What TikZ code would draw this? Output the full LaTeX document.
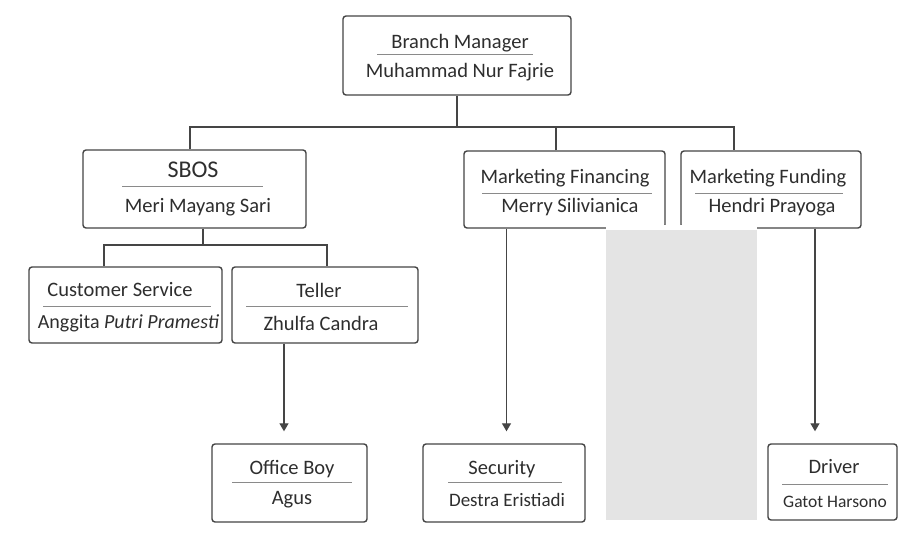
\documentclass[tikz,border=0pt]{standalone}
\usepackage{fontspec}
\setmainfont{Carlito}
\usetikzlibrary{arrows.meta}
\definecolor{linec}{HTML}{454545}
\definecolor{txtc}{HTML}{2E2E2E}
\definecolor{sepc}{HTML}{8A8A8A}
\definecolor{occl}{HTML}{E4E4E4}
\tikzset{
  box/.style={draw=linec, line width=1.4pt, rounded corners=3pt, fill=white, inner sep=0pt},
  txt/.style={text=txtc, inner sep=0pt, font=\fontsize{20.5}{24}\selectfont},
  smalltxt/.style={text=txtc, inner sep=0pt, font=\fontsize{17.5}{21}\selectfont},
  bigtxt/.style={text=txtc, inner sep=0pt, font=\fontsize{24}{28}\selectfont},
  sepline/.style={draw=sepc, line width=0.9pt},
  conn/.style={draw=linec, line width=1.3pt},
  arr/.style={draw=linec, line width=1.3pt, -{Triangle[width=9pt,length=8pt]}, shorten >=12pt}
}
\begin{document}
\begin{tikzpicture}[x=1pt,y=-1pt]
\fill[white] (0,0) rectangle (908,535);
\useasboundingbox (0,0) rectangle (908,535);

% boxes
\node[box, minimum width=228, minimum height=79] (bm) at (457,55.5) {};
\node[box, minimum width=223, minimum height=78] (sbos) at (194.5,189) {};
\node[box, minimum width=201, minimum height=77] (mf) at (564.5,189.5) {};
\node[box, minimum width=180, minimum height=77] (mfu) at (771,189.5) {};
\node[box, minimum width=193, minimum height=76] (cs) at (125.5,305) {};
\node[box, minimum width=186, minimum height=76] (teller) at (325,305) {};
\node[box, minimum width=155, minimum height=78] (ob) at (289.5,483) {};
\node[box, minimum width=162, minimum height=78] (sec) at (504,483) {};
\node[box, minimum width=129, minimum height=76] (drv) at (832.5,482) {};

% texts
\node[txt] (bmT) at (460,43) {Branch Manager};
\draw[sepline] (377,54) -- (533,54);
\node[txt] (bmN) at (460,72) {Muhammad Nur Fajrie};

\node[bigtxt] (sbT) at (193,170) {SBOS};
\draw[sepline] (122,186) -- (263,186);
\node[txt] (sbN) at (198,207) {Meri Mayang Sari};

\node[txt] (mfT) at (565,178) {Marketing Financing};
\draw[sepline] (482,193) -- (652,193);
\node[txt] (mfN) at (570,207) {Merry Silivianica};

\node[txt] (mfuT) at (768,178) {Marketing Funding};
\draw[sepline] (695,193) -- (843,193);
\node[txt] (mfuN) at (772,207) {Hendri Prayoga};

\node[txt] (csT) at (120,290) {Customer Service};
\draw[sepline] (43,306) -- (211,306);
\node[txt, font=\fontsize{20}{24}\selectfont] (csN) at (128.5,323) {Anggita \textit{Putri Pramesti}};

\node[txt] (teT) at (319,290) {Teller};
\draw[sepline] (246,306) -- (408,306);
\node[txt] (teN) at (321,323) {Zhulfa Candra};

\node[txt] (obT) at (292,469) {Office Boy};
\draw[sepline] (232,482) -- (352,482);
\node[txt] (obN) at (292,500) {Agus};

\node[txt] (seT) at (502,469) {Security};
\draw[sepline] (448,482) -- (562,482);
\node[smalltxt, font=\fontsize{19}{22}\selectfont] (seN) at (507,500) {Destra Eristiadi};

\node[txt] (drT) at (834,467) {Driver};
\draw[sepline] (782,484) -- (888,484);
\node[smalltxt] (drN) at (835,502) {Gatot Harsono};

% connectors
\coordinate (j1) at (457,127);
\draw[conn] (bm.south) -- (j1);
\draw[conn] ([xshift=-4.5]sbos.north) |- (j1) -| ([xshift=-37]mfu.north);
\draw[conn] ([xshift=-8.5]mf.north) -- ([xshift=-8.5]mf.north |- j1);

\coordinate (j2) at (203,245);
\draw[conn] ([xshift=8.5]sbos.south) -- (j2);
\draw[conn] ([xshift=-21.5]cs.north) |- (j2) -| ([xshift=2]teller.north);

\draw[arr] ([xshift=-41]teller.south) -- ([xshift=-41]teller.south |- ob.north);
\draw[arr] ([xshift=-58]mf.south) -- ([xshift=-58]mf.south |- sec.north);
\draw[arr] ([xshift=44]mfu.south) -- ([xshift=44]mfu.south |- drv.north);

% occluding patch
\fill[white] (606,224.5) rectangle (757,229.5);
\fill[occl] (606,229.5) rectangle (757,520);
\end{tikzpicture}
\end{document}
